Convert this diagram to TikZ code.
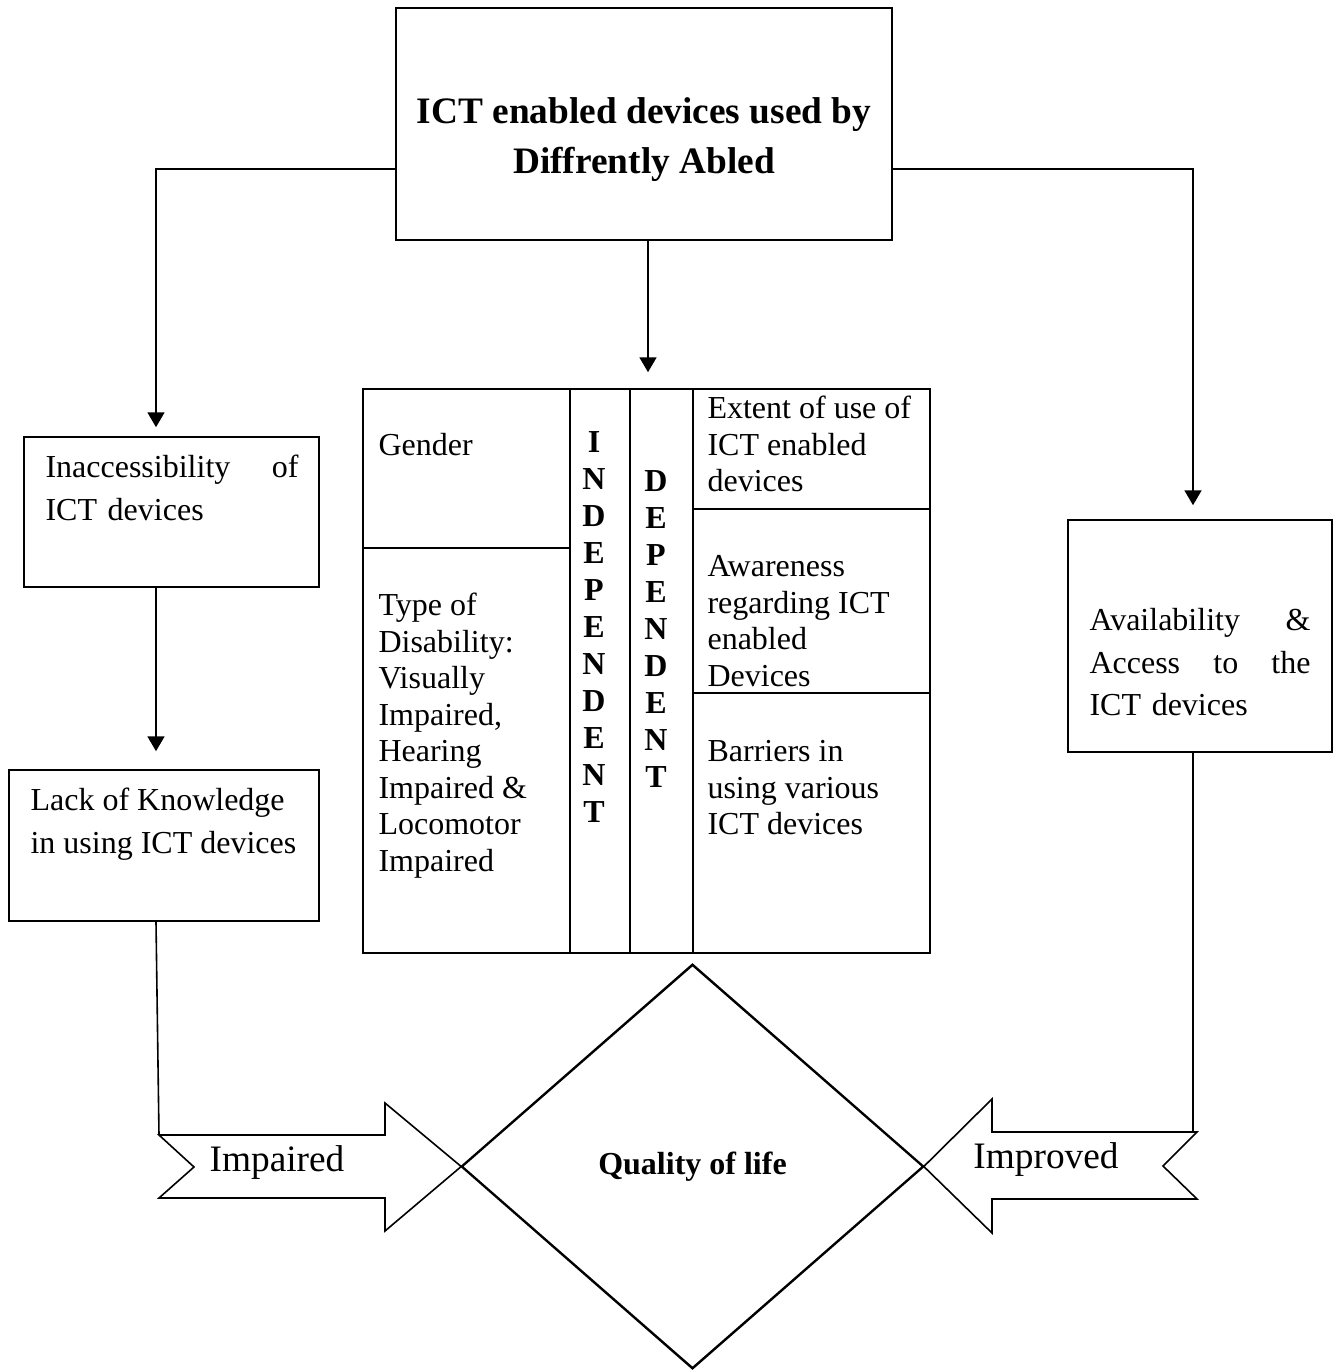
\documentclass[tikz,border=0pt]{standalone}
\usepackage{fontspec}
\setmainfont{Liberation Serif}
\usetikzlibrary{arrows.meta,calc,shapes.geometric}
\newdimen\pxu
\pxu=0.375pt
\tikzset{
  frame/.style={draw, line width=0.6pt, inner sep=0pt},
  arr/.style={line width=0.6pt, -{Triangle[length=5.6pt,width=6.4pt]}},
  boxtext/.style={anchor=north west, inner sep=0pt, align=left, font=\fontsize{12}{16}\selectfont},
  celltext/.style={anchor=north west, inner sep=0pt, align=left, font=\fontsize{12}{13.7}\selectfont},
  letter/.style={anchor=base, inner sep=0pt, font=\fontsize{12}{13.7}\selectfont\bfseries}
}
\begin{document}
\begin{tikzpicture}[x=0.375pt,y=-0.375pt]
  \useasboundingbox (0,0) rectangle (1337,1370);
  % boxes
  \node[frame, minimum width=496\pxu, minimum height=232\pxu] (top) at (644,124) {};
  \node[font=\fontsize{14}{18.75}\selectfont\bfseries, align=center] (title) at (644,140)
    {ICT enabled devices used by\\Diffrently Abled};
  \node[frame, minimum width=295\pxu, minimum height=150\pxu] (inacc) at (171.5,512) {};
  \node[boxtext, text width=253\pxu] (inacctxt) at (45,447) {\strut Inaccessibility\hfill of\\ICT devices};
  \node[frame, minimum width=310\pxu, minimum height=151\pxu] (lack) at (164,845.5) {};
  \node[boxtext] (lacktxt) at (30,780) {\strut Lack of Knowledge\\in using ICT devices};
  \node[frame, minimum width=264\pxu, minimum height=232\pxu] (avail) at (1200,636) {};
  \node[boxtext, text width=221\pxu] (availtxt) at (1089,600)
    {\strut Availability\hfill\&\\Access\hfill to\hfill the\\ICT devices};
  % table of variables
  \node[frame, minimum width=567\pxu, minimum height=564\pxu] (tab) at (646.5,671) {};
  \foreach \x in {570,630,693}
    \draw[line width=0.6pt] (\x,389) -- (\x,953);
  \draw[line width=0.6pt] (363,548) -- (570,548);
  \foreach \y in {509,693}
    \draw[line width=0.6pt] (693,\y) -- (930,\y);
  \node[celltext] (gender) at (378,429.4) {\strut Gender};
  \node[celltext] (distype) at (378,589.4) {\strut Type of\\Disability:\\Visually\\Impaired,\\Hearing\\Impaired \&\\Locomotor\\Impaired};
  \node[celltext] (extent) at (707,392.4) {\strut Extent of use of\\ICT enabled\\devices};
  \node[celltext] (aware) at (707,550.4) {\strut Awareness\\regarding ICT\\enabled\\Devices};
  \node[celltext] (barrier) at (707,735.4) {\strut Barriers in\\using various\\ICT devices};
  \foreach \ch [count=\i] in {I,N,D,E,P,E,N,D,E,N,T}
    \node[letter] (ind\i) at (594,{452+37*(\i-1)}) {\ch};
  \foreach \ch [count=\i] in {D,E,P,E,N,D,E,N,T}
    \node[letter] (dep\i) at (656,{491+37*(\i-1)}) {\ch};
  % quality of life
  \node[draw, diamond, line width=0.6pt, inner sep=0pt, minimum width=461\pxu, minimum height=403\pxu,
    font=\fontsize{12}{14}\selectfont\bfseries] (qol) at (692.5,1166.5) {Quality of life};
  \coordinate (imptl) at (159,1135);
  \coordinate (imprtr) at (1197,1132);
  \draw[line width=0.6pt, fill=white] (imptl) -- (385,1135) -- (385,1103) -- (qol.west) -- (385,1231)
    -- (385,1198) -- (159,1198) -- (194,1167) -- cycle;
  \draw[line width=0.6pt, fill=white] (imprtr) -- (992,1132) -- (992,1099) -- (qol.east) -- (992,1233)
    -- (992,1199) -- (1197,1199) -- (1163,1166) -- cycle;
  \draw[line width=0.6pt] (qol.north) -- (qol.west) -- (qol.south) -- (qol.east) -- cycle;
  \node[font=\fontsize{14}{16}\selectfont] (impaired) at (277,1163) {Impaired};
  \node[font=\fontsize{14}{16}\selectfont] (improved) at (1046,1160) {Improved};
  % connectors
  \coordinate (lx) at (156,0);
  \coordinate (mx) at (648,0);
  \coordinate (rx) at (1193,0);
  \draw[arr, shorten >=9\pxu] ($(top.west)+(0,45)$) -| (lx |- inacc.north);
  \draw[arr, shorten >=16\pxu] (mx |- top.south) -- (mx |- tab.north);
  \draw[arr, shorten >=14\pxu] ($(top.east)+(0,45)$) -| (rx |- avail.north);
  \draw[arr, shorten >=18\pxu] (lx |- inacc.south) -- (lx |- lack.north);
  \draw[line width=0.6pt] (lx |- lack.south) -- (imptl);
  \draw[line width=0.6pt] (rx |- avail.south) -- (rx |- imprtr);
\end{tikzpicture}
\end{document}
